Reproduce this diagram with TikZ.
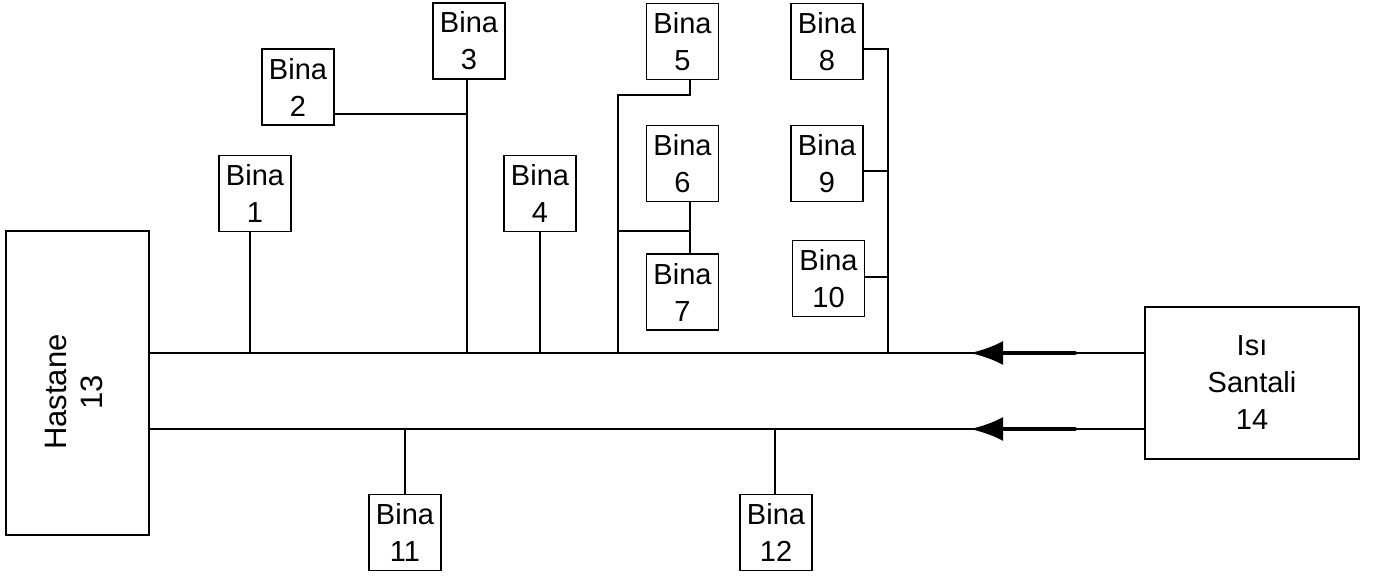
\documentclass[tikz,border=0pt]{standalone}
\usepackage{fontspec}
\setmainfont{Liberation Sans}
\usetikzlibrary{arrows.meta}
\begin{document}
\begin{tikzpicture}[x=0.5pt,y=-0.5pt,
  every node/.style={font=\fontsize{14.5}{18.5}\selectfont},
  bina/.style={draw, line width=0.7pt, align=center, inner sep=0pt, minimum width=36pt, minimum height=38pt},
  pipe/.style={line width=0.65pt},
  flow/.style={line width=2pt, line cap=round, -{Latex[length=16.5pt,width=12pt]}}]
\useasboundingbox (0,0) rectangle (1374,575);
% main blocks
\node[draw, line width=0.7pt, minimum width=71.5pt, minimum height=152pt, inner sep=0pt,
      font=\fontsize{15.5}{18}\selectfont] (h) at (77.5,383)
  {\rotatebox{90}{\begin{tabular}{@{}c@{\hspace{9pt}}}Hastane\\13\end{tabular}}};
\node[draw, line width=0.7pt, align=center, minimum width=107pt, minimum height=76pt, inner sep=0pt] (isi) at (1252,383) {Isı\\Santali\\14};
% buildings
\node[bina] (b1) at (255,193.5) {Bina\\1};
\node[bina] (b2) at (298,87) {Bina\\2};
\node[bina] (b3) at (469,41) {Bina\\3};
\node[bina] (b4) at (540,193.5) {Bina\\4};
\node[bina] (b5) at (682.5,41.5) {Bina\\5};
\node[bina] (b6) at (682.5,163.5) {Bina\\6};
\node[bina] (b7) at (682.5,292) {Bina\\7};
\node[bina] (b8) at (827,41.5) {Bina\\8};
\node[bina] (b9) at (827,163.5) {Bina\\9};
\node[bina] (b10) at (828.5,278.5) {Bina\\10};
\node[bina] (b11) at (405,532.5) {Bina\\11};
\node[bina] (b12) at (776,532.5) {Bina\\12};
% bus levels
\coordinate (top) at (0,353);
\coordinate (bot) at (0,429);
\coordinate (tail1) at (1075,353);
\coordinate (tip1) at (970,353);
\coordinate (tail2) at (1075,429);
\coordinate (tip2) at (970,429);
% buses
\draw[pipe] (h.east |- top) -- (isi.west |- top);
\draw[pipe] (h.east |- bot) -- (isi.west |- bot);
\draw[flow] (tail1) -- (tip1);
\draw[flow] (tail2) -- (tip2);
% drops
\coordinate (x1) at (250,0);
\draw[pipe] (x1 |- b1.south) -- (x1 |- top);
\coordinate (x3) at (467,0);
\draw[pipe] (x3 |- b3.south) -- (x3 |- top);
\coordinate (j2) at (467,114);
\draw[pipe] (b2.east |- j2) -- (j2);
\draw[pipe] (b4.south) -- (b4.south |- top);
\coordinate (x5) at (690,0);
\coordinate (x57) at (618,0);
\draw[pipe] (x5 |- b5.south) -- (690,95) -- (618,95) -- (x57 |- top);
\draw[pipe] (x5 |- b6.south) -- (x5 |- b7.north);
\draw[pipe] (690,231) -- (618,231);
\coordinate (x8) at (888,0);
\draw[pipe] (b8.east |- 0,49) -- (888,49) -- (x8 |- top);
\draw[pipe] (b9.east |- 0,171) -- (888,171);
\draw[pipe] (b10.east |- 0,277) -- (888,277);
\coordinate (x11) at (405,0);
\draw[pipe] (x11 |- bot) -- (x11 |- b11.north);
\coordinate (x12) at (775,0);
\draw[pipe] (x12 |- bot) -- (x12 |- b12.north);
\end{tikzpicture}
\end{document}
